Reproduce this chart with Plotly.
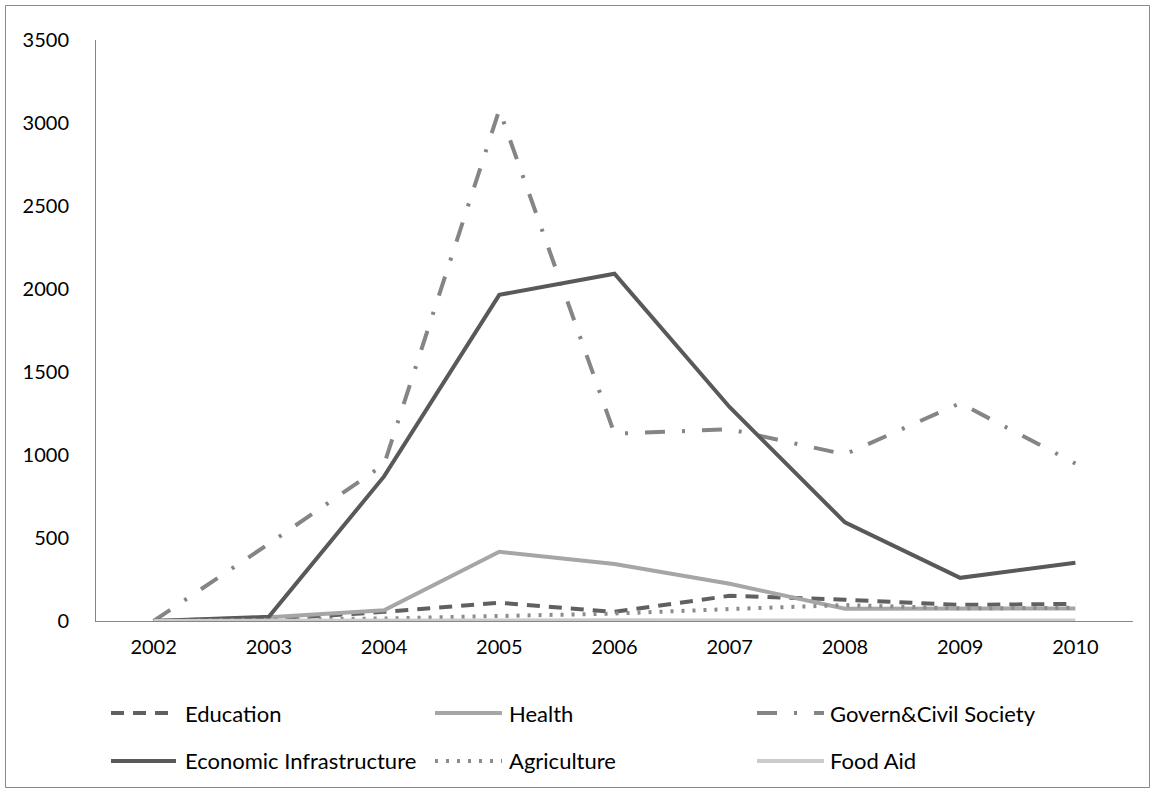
import plotly.graph_objects as go

# Aid disbursements by sector, 2002-2010
years = ["2002", "2003", "2004", "2005", "2006", "2007", "2008", "2009", "2010"]
education = [0, 10, 55, 110, 55, 152, 128, 97, 103]
health = [0, 22, 65, 417, 343, 224, 74, 72, 75]
govern_civil = [0, 465, 943, 3080, 1128, 1155, 1004, 1312, 949]
economic_infra = [0, 25, 871, 1965, 2092, 1288, 594, 260, 351]
agriculture = [0, 5, 15, 30, 45, 72, 96, 76, 80]
food_aid = [0, 2, 3, 4, 4, 3, 3, 3, 3]

y_ticks = [0, 500, 1000, 1500, 2000, 2500, 3000, 3500]

W, H = 1154, 793
L, R, T, B = 96, 1133, 40, 621  # plot-area edges in pixels

FONT = "Lato, Liberation Sans, Arial, sans-serif"

series = [
    ("Education", education, "#606060", "13px,9px"),
    ("Health", health, "#a6a6a6", "solid"),
    ("Govern&Civil Society", govern_civil, "#858585", "20px,17px,3px,17px"),
    ("Economic Infrastructure", economic_infra, "#595959", "solid"),
    ("Agriculture", agriculture, "#8c8c8c", "3px,8px"),
    ("Food Aid", food_aid, "#cbcbcb", "solid"),
]

fig = go.Figure()
for name, vals, color, dash in series:
    fig.add_trace(go.Scatter(
        x=years, y=vals, name=name, mode="lines",
        line=dict(color=color, width=4, dash=dash),
        showlegend=False,
    ))


def px_x(px):
    return (px - L) / (R - L)


def px_y(py):
    return (B - py) / (B - T)


shapes = []
annotations = []

# outer chart frame
shapes.append(dict(type="rect", xref="paper", yref="paper",
                   x0=px_x(5.5), x1=px_x(1149.5), y0=px_y(787.5), y1=px_y(5.5),
                   line=dict(color="#898989", width=1), fillcolor="rgba(0,0,0,0)",
                   layer="below"))

# legend: two rows of three entries
legend_slots = [
    (111, 176, 183, 713), (435, 502, 507, 713), (757, 824, 828, 713),
    (111, 176, 183, 761), (435, 502, 507, 761), (757, 824, 828, 761),
]
for (name, vals, color, dash), (sx0, sx1, tx, ly) in zip(series, legend_slots):
    shapes.append(dict(type="line", xref="paper", yref="paper",
                       x0=px_x(sx0), x1=px_x(sx1), y0=px_y(ly), y1=px_y(ly),
                       line=dict(color=color, width=4, dash=dash)))
    annotations.append(dict(xref="paper", yref="paper", x=px_x(tx), y=px_y(ly),
                            text=name, showarrow=False, xanchor="left",
                            yanchor="middle", font=dict(size=22, color="#000000",
                                                        family=FONT)))

fig.update_layout(
    width=W, height=H,
    margin=dict(l=L, r=W - R, t=T, b=H - B, pad=0),
    paper_bgcolor="white", plot_bgcolor="white",
    font=dict(family=FONT, size=20, color="#000000"),
    shapes=shapes, annotations=annotations,
    showlegend=False,
)
fig.update_xaxes(
    type="category", range=[-0.5, 8.5], showgrid=False, zeroline=False,
    showline=True, linecolor="#868686", linewidth=1, ticks="",
    ticklabelstandoff=8, tickfont=dict(size=20, family=FONT, color="#000000"),
)
fig.update_yaxes(
    range=[0, 3500], tickvals=y_ticks, showgrid=False, zeroline=False,
    showline=True, linecolor="#868686", linewidth=1, ticks="",
    ticklabelstandoff=22, tickfont=dict(size=20, family=FONT, color="#000000"),
)

fig.write_html("out.html")
